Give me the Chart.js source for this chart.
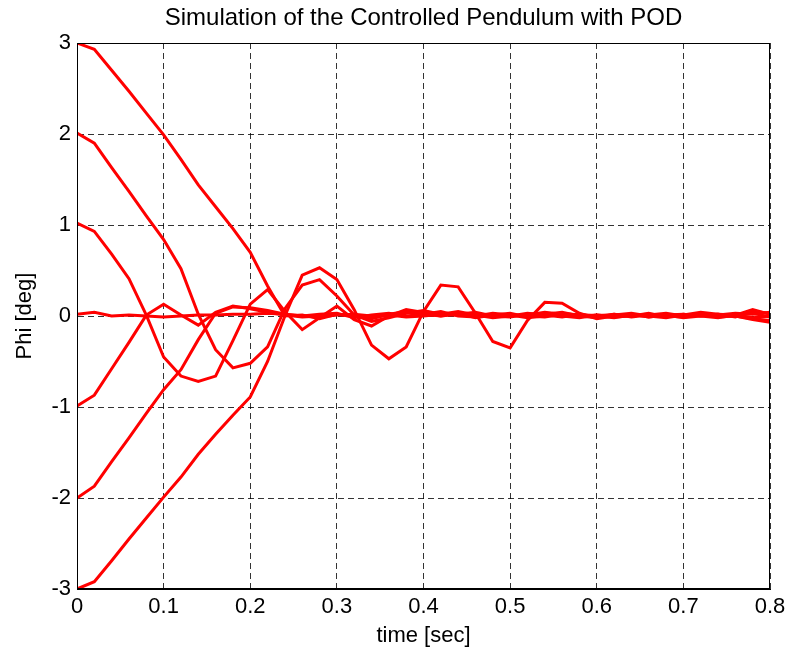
<!DOCTYPE html>
<html>
<head>
<meta charset="utf-8">
<script src="https://cdn.jsdelivr.net/npm/chart.js@4"></script>
<style>
  html, body { margin: 0; padding: 0; background: #fff; }
  #wrap { width: 791px; height: 657px; }
</style>
</head>
<body>
<div id="wrap"><canvas id="myChart" width="791" height="657"></canvas></div>
<script>
// time samples [sec]
const time = [0, 0.02, 0.04, 0.06, 0.08, 0.1, 0.12, 0.14, 0.16, 0.18, 0.2,
  0.22, 0.24, 0.26, 0.28, 0.3, 0.32, 0.34, 0.36, 0.38, 0.4,
  0.42, 0.44, 0.46, 0.48, 0.5, 0.52, 0.54, 0.56, 0.58, 0.6,
  0.62, 0.64, 0.66, 0.68, 0.7, 0.72, 0.74, 0.76, 0.78, 0.8];

// Phi [deg] for each initial angle
const phiStart3 = [3.0, 2.93, 2.7, 2.47, 2.23, 1.99, 1.72, 1.44, 1.2, 0.96, 0.7,
  0.33, 0.0, 0.01, -0.03, 0.02, 0.0, -0.02, 0.01, 0.04, 0.02,
  0.0, 0.03, -0.02, 0.01, 0.03, -0.01, 0.02, 0.04, 0.0, -0.02,
  0.02, 0.0, 0.03, -0.01, 0.02, 0.0, -0.02, 0.01, 0.07, 0.02];
const phiStart2 = [2.01, 1.9, 1.63, 1.37, 1.1, 0.84, 0.52, 0.02, -0.37, -0.57, -0.52,
  -0.34, 0.08, 0.34, 0.4, 0.22, 0.01, -0.06, -0.02, 0.03, 0.06,
  0.02, 0.05, 0.01, -0.02, 0.0, 0.03, 0.01, -0.01, 0.02, 0.0,
  -0.02, 0.01, 0.02, 0.0, -0.01, 0.03, 0.01, 0.0, -0.03, -0.05];
const phiStart1 = [1.02, 0.93, 0.68, 0.41, 0.01, -0.45, -0.66, -0.72, -0.66, -0.27, 0.13,
  0.29, 0.05, -0.15, -0.02, 0.11, -0.04, -0.11, 0.0, 0.07, 0.04,
  0.01, 0.03, -0.01, 0.02, 0.01, -0.02, 0.0, 0.03, 0.01, -0.01,
  0.01, 0.03, 0.0, -0.02, 0.01, 0.04, 0.02, 0.0, 0.03, -0.01];
const phiStart0 = [0.02, 0.04, 0.0, 0.01, 0.0, -0.01, 0.0, 0.01, 0.01, 0.02, 0.02,
  0.03, 0.02, 0.0, -0.01, 0.01, 0.02, 0.0, 0.01, -0.01, 0.0,
  0.02, 0.01, 0.0, 0.03, 0.01, 0.0, -0.01, 0.02, 0.01, 0.0,
  0.02, -0.01, 0.01, 0.03, 0.0, 0.01, 0.02, -0.01, 0.05, 0.03];
const phiStartM1 = [-0.99, -0.87, -0.58, -0.29, 0.01, 0.13, 0.01, -0.1, 0.04, 0.11, 0.08,
  0.04, 0.01, -0.01, 0.0, 0.02, 0.0, -0.03, 0.02, 0.05, 0.03,
  0.0, 0.02, 0.04, 0.0, -0.01, 0.02, 0.03, 0.0, -0.02, 0.01,
  0.0, 0.02, -0.01, 0.01, 0.02, 0.0, 0.01, 0.03, 0.02, 0.04];
const phiStartM2 = [-2.0, -1.87, -1.6, -1.34, -1.07, -0.81, -0.59, -0.26, 0.03, 0.1, 0.09,
  0.06, 0.02, 0.0, 0.02, 0.03, -0.02, 0.01, 0.03, 0.0, 0.02,
  0.05, 0.0, -0.01, 0.02, 0.0, 0.01, 0.04, 0.02, 0.0, 0.01,
  -0.01, 0.0, 0.02, 0.01, -0.02, 0.0, 0.02, 0.01, -0.02, 0.0];
const phiStartM3 = [-3.0, -2.92, -2.69, -2.45, -2.22, -1.99, -1.77, -1.52, -1.3, -1.09, -0.89,
  -0.5, 0.0, 0.45, 0.53, 0.4, 0.07, -0.32, -0.47, -0.34, 0.05,
  0.34, 0.32, 0.03, -0.28, -0.35, -0.05, 0.15, 0.14, 0.03, -0.03,
  0.0, 0.02, -0.01, 0.01, 0.0, 0.02, -0.01, 0.0, -0.04, -0.07];

const allRuns = [phiStart3, phiStart2, phiStart1, phiStart0, phiStartM1, phiStartM2, phiStartM3];

const xTicks = [0, 0.1, 0.2, 0.3, 0.4, 0.5, 0.6, 0.7, 0.8];
const yTicks = [-3, -2, -1, 0, 1, 2, 3];

const chartTitle = "Simulation of the Controlled Pendulum with POD";
const fontFam = "'Liberation Sans', Arial, sans-serif";

// axes box + title centred over the plot area (MATLAB style)
const frameBox = {
  id: "frameBox",
  afterDatasetsDraw(chart) {
    const a = chart.chartArea;
    const ctx = chart.ctx;
    ctx.save();
    ctx.strokeStyle = "#000";
    ctx.lineWidth = 1;
    ctx.strokeRect(a.left + 0.5, a.top + 0.5, a.right - a.left - 1, a.bottom - a.top - 1);
    ctx.fillStyle = "#000";
    ctx.font = "24px " + fontFam;
    ctx.textAlign = "center";
    ctx.textBaseline = "middle";
    ctx.fillText(chartTitle, (a.left + a.right) / 2, 18);
    ctx.restore();
  },
};

const ctx = document.getElementById("myChart").getContext("2d");
const myChart = new Chart(ctx, {
  type: "line",
  data: {
    datasets: allRuns.map((run) => ({
      data: run.map((v, i) => ({ x: time[i], y: v })),
      borderColor: "#ff0000",
      borderWidth: 3,
      pointRadius: 0,
      tension: 0,
      fill: false,
    })),
  },
  options: {
    responsive: false,
    animation: false,
    devicePixelRatio: 1,
    layout: { padding: { left: 0, right: 21, top: 43, bottom: 0 } },
    plugins: {
      legend: { display: false },
      tooltip: { enabled: false },
      title: { display: false },
    },
    scales: {
      x: {
        type: "linear",
        min: 0,
        max: 0.8,
        afterBuildTicks: (scale) => {
          scale.ticks = xTicks.map((v) => ({ value: v }));
        },
        afterFit: (scale) => {
          scale.height = 68;
        },
        ticks: {
          color: "#000",
          padding: 5,
          maxRotation: 0,
          font: { family: fontFam, size: 22 },
          callback: (v) => String(v),
        },
        grid: { color: "rgba(0,0,0,0.8)", lineWidth: 1, drawTicks: false },
        border: { display: true, color: "#000", width: 1, dash: [6, 4] },
        title: {
          display: true,
          text: "time [sec]",
          color: "#000",
          font: { family: fontFam, size: 22, lineHeight: 1.2 },
          padding: { top: 0, bottom: 8 },
        },
      },
      y: {
        type: "linear",
        min: -3,
        max: 3,
        afterBuildTicks: (scale) => {
          scale.ticks = yTicks.map((v) => ({ value: v }));
        },
        afterFit: (scale) => {
          scale.width = 77;
        },
        ticks: {
          color: "#000",
          padding: 6,
          font: { family: fontFam, size: 22 },
        },
        grid: { color: "rgba(0,0,0,0.8)", lineWidth: 1, drawTicks: false },
        border: { display: true, color: "#000", width: 1, dash: [6, 4] },
        title: {
          display: true,
          text: "Phi [deg]",
          color: "#000",
          font: { family: fontFam, size: 22, lineHeight: 1.2 },
          padding: { top: 12, bottom: 0 },
        },
      },
    },
  },
  plugins: [frameBox],
});
</script>
</body>
</html>
